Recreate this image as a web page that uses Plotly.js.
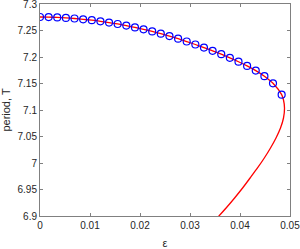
<!DOCTYPE html>
<html>
<head>
<meta charset="utf-8">
<script src="https://cdn.plot.ly/plotly-3.0.1.min.js"></script>
<style>html,body{margin:0;padding:0;background:#fff;}#chart{width:300px;height:249px;}</style>
</head>
<body>
<div id="chart"></div>
<script>
// Marker points (upper branch)
const epsMarkers = [0, 0.00173, 0.00345, 0.00518, 0.0069, 0.00863, 0.01036, 0.01208, 0.01381, 0.01553,
  0.01726, 0.01899, 0.02071, 0.02244, 0.02416, 0.02589, 0.02762, 0.02934, 0.03107, 0.03279,
  0.03452, 0.03625, 0.03797, 0.0397, 0.04142, 0.04315, 0.04488, 0.0466, 0.04833];
const periodMarkers = [7.2755, 7.2753, 7.2747, 7.2738, 7.2726, 7.2711, 7.2694, 7.2674, 7.2649, 7.2623,
  7.2592, 7.2558, 7.2523, 7.2483, 7.2440, 7.2394, 7.2345, 7.2292, 7.2236, 7.2177,
  7.2117, 7.2053, 7.1985, 7.1911, 7.1832, 7.1743, 7.1638, 7.1504, 7.1289];
// Continuation of the curve past the fold (lower branch)
const epsFold = [0.0487, 0.0489, 0.0487, 0.0481, 0.0472, 0.0461, 0.04486, 0.0435, 0.04202,
  0.04052, 0.03892, 0.03722, 0.03542, 0.0345];
const periodFold = [7.1189, 7.1038, 7.0849, 7.0660, 7.0472, 7.0283, 7.0094, 6.9906, 6.9717,
  6.9528, 6.9340, 6.9151, 6.8962, 6.8868];

const xTickVals = [0, 0.01, 0.02, 0.03, 0.04, 0.05];
const xTickText = ["0", "0.01", "0.02", "0.03", "0.04", "0.05"];
const yTickVals = [6.9, 6.95, 7, 7.05, 7.1, 7.15, 7.2, 7.25, 7.3];
const yTickText = ["6.9", "6.95", "7", "7.05", "7.1", "7.15", "7.2", "7.25", "7.3"];

const lineTrace = {
  x: epsMarkers.concat(epsFold),
  y: periodMarkers.concat(periodFold),
  mode: 'lines',
  line: {color: '#ff0000', width: 1.3, shape: 'spline', smoothing: 0.7},
  hoverinfo: 'skip'
};
const markerTrace = {
  x: epsMarkers,
  y: periodMarkers,
  mode: 'markers',
  marker: {symbol: 'circle-open', size: 7, color: '#0000ff', line: {width: 1.2, color: '#0000ff'}}
};

const axisCommon = {
  showline: true, mirror: 'ticks', linecolor: '#808080', linewidth: 1,
  ticks: 'inside', ticklen: 3, tickcolor: '#808080', tickwidth: 1,
  showgrid: false, zeroline: false, ticklabeloverflow: 'allow',
  tickfont: {family: 'Liberation Sans, Arial, sans-serif', size: 10, color: '#262626'}
};

const layout = {
  width: 300, height: 249,
  margin: {l: 40, r: 10, t: 4, b: 33},
  paper_bgcolor: '#fff', plot_bgcolor: '#fff',
  showlegend: false,
  xaxis: Object.assign({}, axisCommon, {
    range: [0, 0.05], tickvals: xTickVals, ticktext: xTickText,
    title: {text: 'ε', font: {family: 'Liberation Sans, Arial, sans-serif', size: 11, color: '#262626'}, standoff: 10}
  }),
  yaxis: Object.assign({}, axisCommon, {
    range: [6.9, 7.3], tickvals: yTickVals, ticktext: yTickText,
    title: {text: 'period, T', font: {family: 'Liberation Sans, Arial, sans-serif', size: 11, color: '#262626'}, standoff: 4}
  })
};

Plotly.newPlot('chart', [lineTrace, markerTrace], layout, {staticPlot: true, displayModeBar: false});
</script>
</body>
</html>
